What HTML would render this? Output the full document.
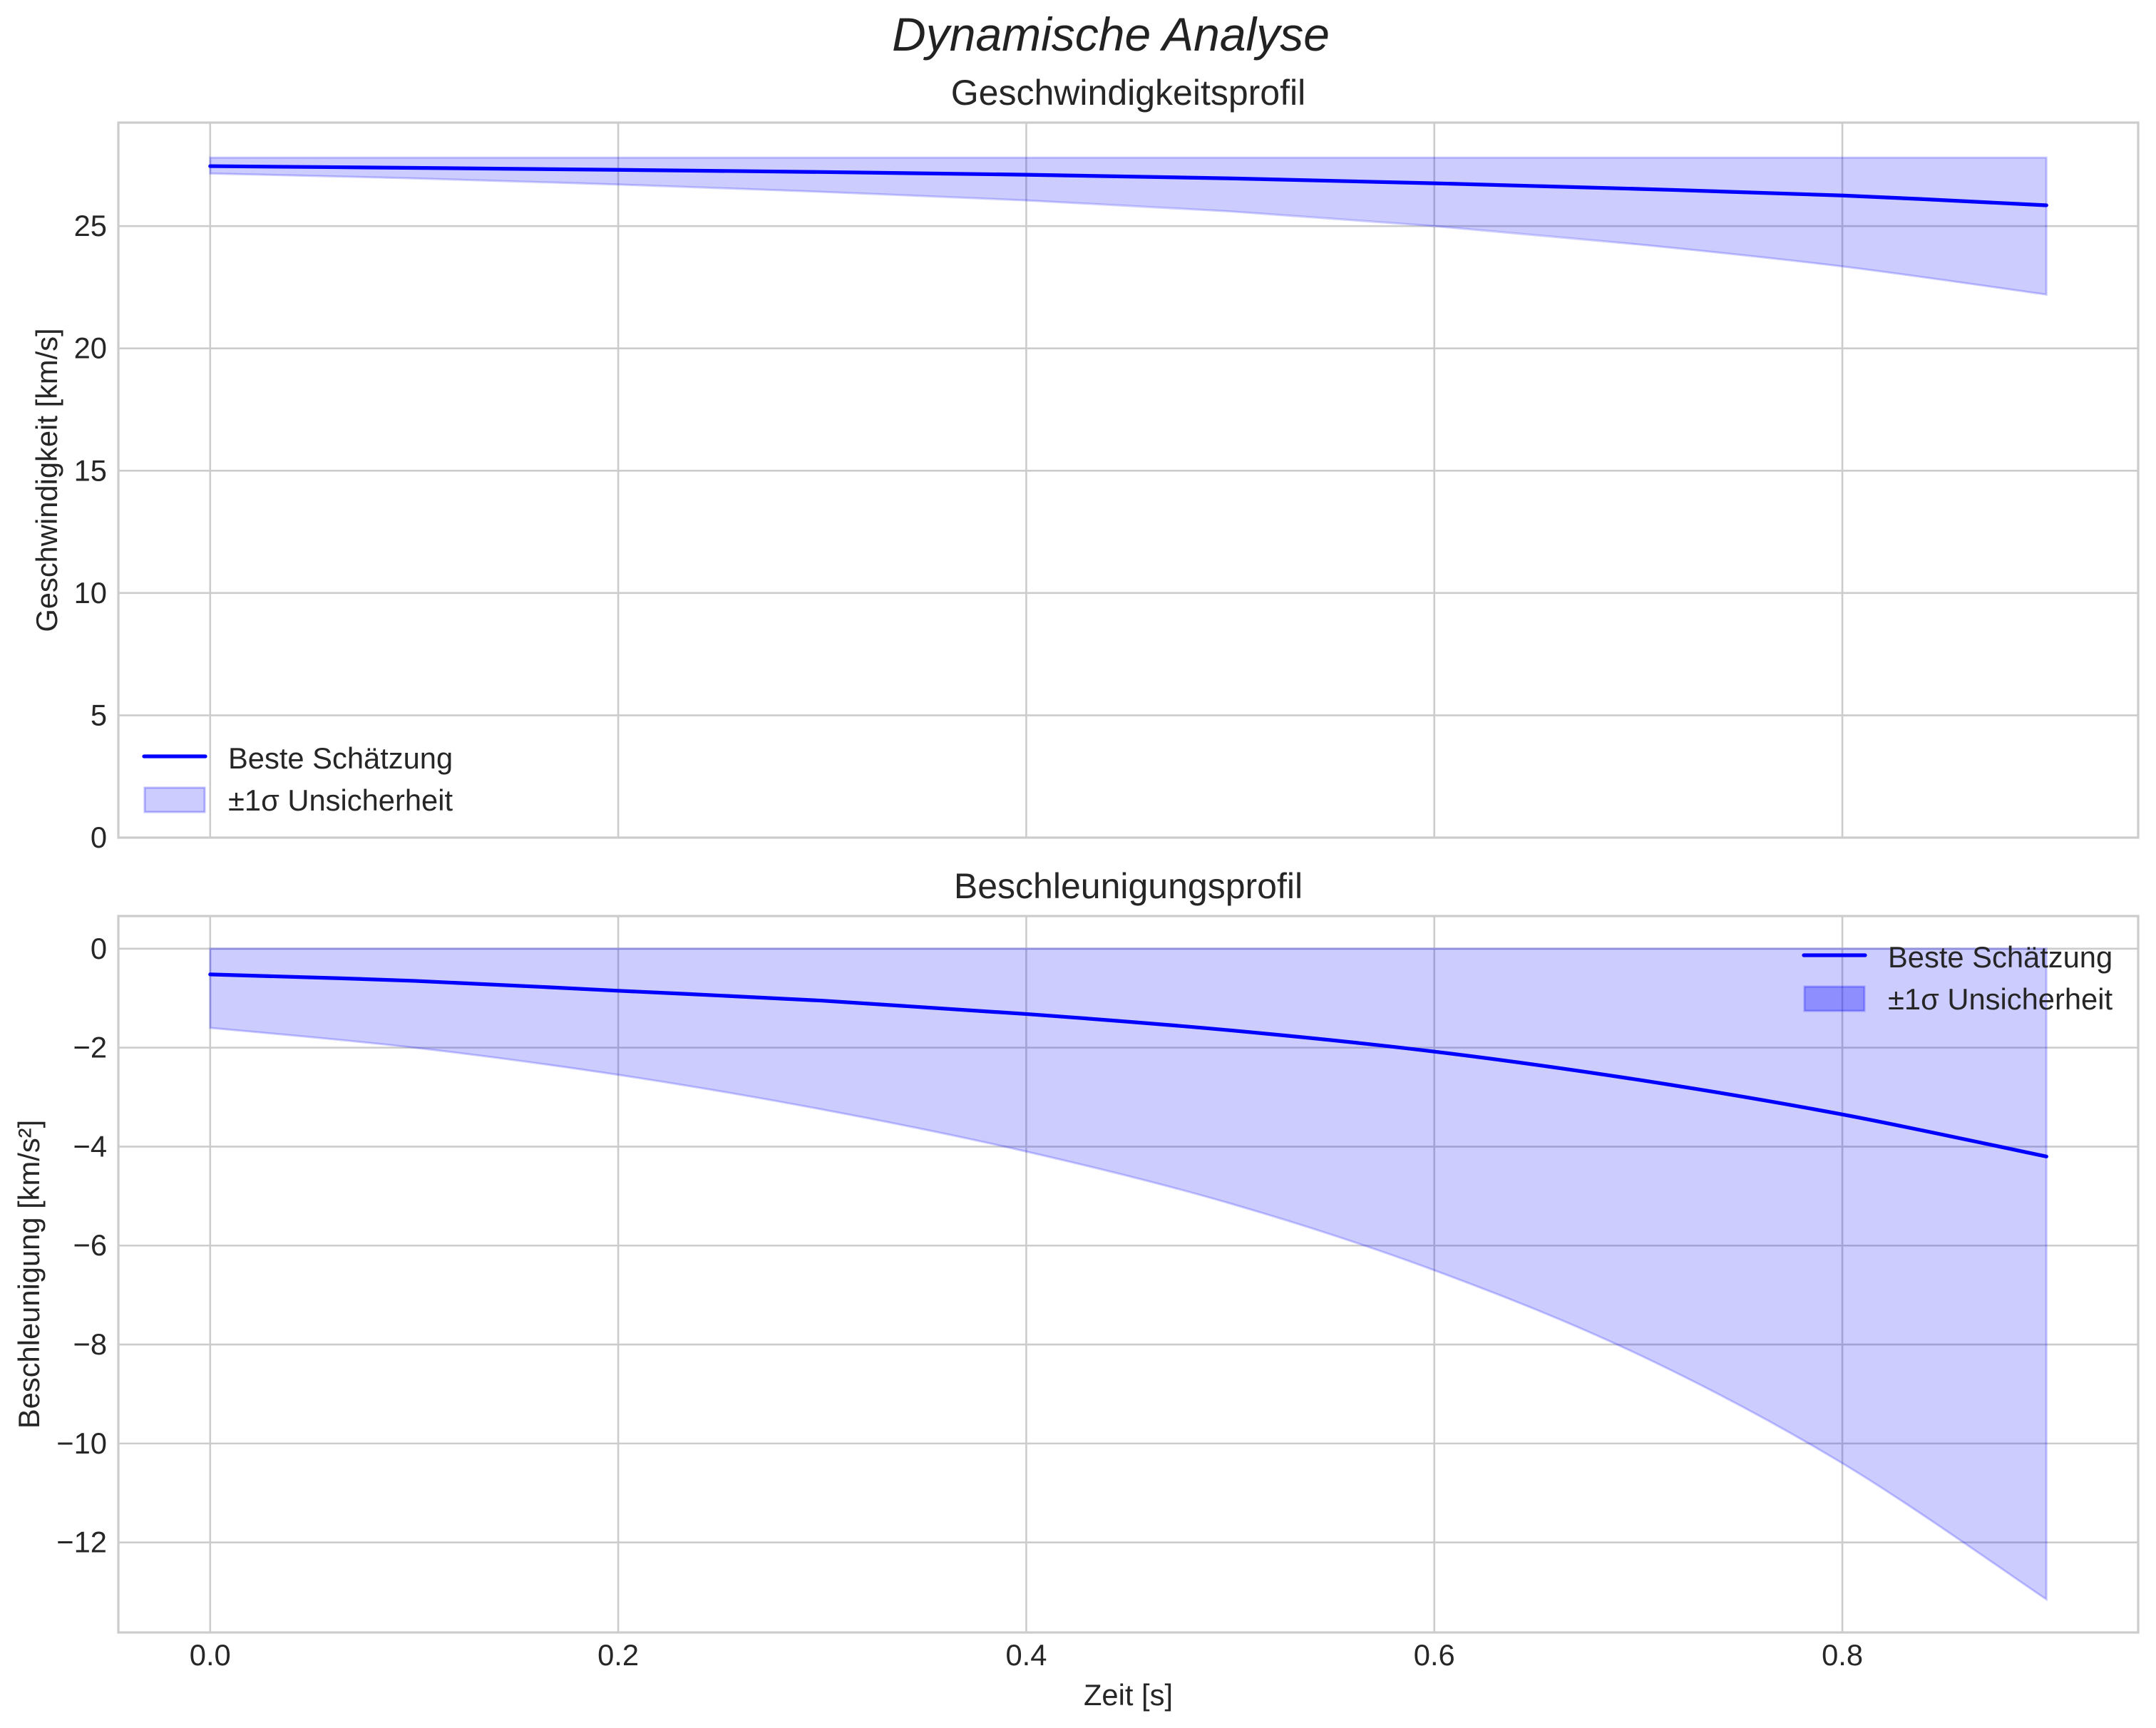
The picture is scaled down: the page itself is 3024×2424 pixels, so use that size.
<!DOCTYPE html>
<html><head><meta charset="utf-8"><style>
html,body{margin:0;padding:0;background:#fff;}
svg{display:block;font-family:"Liberation Sans",sans-serif;}
</style></head><body>
<svg id="chart" width="3024" height="2424" viewBox="0 0 3024 2424" xmlns="http://www.w3.org/2000/svg">
<text x="1558" y="71" font-size="66" font-style="italic" text-anchor="middle" fill="#222">Dynamische Analyse</text>
<g id="top"></g>
<g id="bot"></g>
</svg>
<script>
const timeValues = [0, 0.1, 0.2, 0.3, 0.4, 0.5, 0.6, 0.7, 0.8, 0.9];
const velocityBest = [27.45, 27.38, 27.3, 27.21, 27.1, 26.95, 26.75, 26.52, 26.25, 25.85];
const velocityLower = [27.15, 26.95, 26.7, 26.4, 26.05, 25.6, 25.0, 24.25, 23.35, 22.2];
const velocityUpper = [27.8, 27.8, 27.8, 27.8, 27.8, 27.8, 27.8, 27.8, 27.8, 27.8];
const accelBest = [-0.52, -0.65, -0.85, -1.05, -1.32, -1.65, -2.08, -2.65, -3.35, -4.2];
const accelLower = [-1.6, -2.0, -2.55, -3.25, -4.1, -5.15, -6.5, -8.2, -10.4, -13.15];
const accelUpper = [0, 0, 0, 0, 0, 0, 0, 0, 0, 0];
const xTicks = [0, 0.2, 0.4, 0.6, 0.8];
const xTickLabels = ["0.0", "0.2", "0.4", "0.6", "0.8"];
const velTicks = [0, 5, 10, 15, 20, 25];
const velTickLabels = ["0", "5", "10", "15", "20", "25"];
const accTicks = [0, -2, -4, -6, -8, -10, -12];
const accTickLabels = ["0", "\u22122", "\u22124", "\u22126", "\u22128", "\u221210", "\u221212"];

const NS = "http://www.w3.org/2000/svg";
function mk(parent, tag, attrs, text) {
  const e = document.createElementNS(NS, tag);
  for (const k in attrs) e.setAttribute(k, attrs[k]);
  if (text !== undefined) e.textContent = text;
  parent.appendChild(e);
  return e;
}
const L = 166, R = 2999, XMIN = -0.045, XMAX = 0.945;
const sx = v => L + (v - XMIN) / (XMAX - XMIN) * (R - L);

// Catmull-Rom smooth path through points
function smooth(pts, start) {
  let d = start ? "M" + pts[0][0] + "," + pts[0][1] : "L" + pts[0][0] + "," + pts[0][1];
  for (let i = 0; i < pts.length - 1; i++) {
    const p0 = pts[Math.max(0, i - 1)], p1 = pts[i], p2 = pts[i + 1], p3 = pts[Math.min(pts.length - 1, i + 2)];
    const c1 = [p1[0] + (p2[0] - p0[0]) / 6, p1[1] + (p2[1] - p0[1]) / 6];
    const c2 = [p2[0] - (p3[0] - p1[0]) / 6, p2[1] - (p3[1] - p1[1]) / 6];
    d += "C" + c1[0] + "," + c1[1] + " " + c2[0] + "," + c2[1] + " " + p2[0] + "," + p2[1];
  }
  return d;
}

function panel(g, top, bottom, ymin, ymax, ticks, tickLabels, best, lower, upper, title, ylabel, ylabelX, legend) {
  const sy = v => bottom - (v - ymin) / (ymax - ymin) * (bottom - top);
  xTicks.forEach((t, i) => {
    const l = mk(g, "line", {x1: sx(t), x2: sx(t), y1: top, y2: bottom, stroke: "#cccccc", "stroke-width": 2.6});
    
    
  });
  ticks.forEach((t, i) => {
    const l = mk(g, "line", {x1: L, x2: R, y1: sy(t), y2: sy(t), stroke: "#cccccc", "stroke-width": 2.6});
    
    
    const tx = mk(g, "text", {x: 150, y: sy(t) + 14, "font-size": 41.7, "text-anchor": "end", fill: "#262626"}, tickLabels[i]);
    
    
  });
  const up = timeValues.map((t, i) => [sx(t), sy(upper[i])]);
  const lo = timeValues.map((t, i) => [sx(t), sy(lower[i])]).reverse();
  const d = smooth(up, true) + smooth(lo, false) + "Z";
  const band = mk(g, "path", {d: d, fill: "rgba(0,0,255,0.2)", stroke: "rgba(0,0,255,0.2)", "stroke-width": 3});
  
  
  const bp = timeValues.map((t, i) => [sx(t), sy(best[i])]);
  const line = mk(g, "path", {d: smooth(bp, true), fill: "none", stroke: "#0000ff", "stroke-width": 5.2, "stroke-linejoin": "round", "stroke-linecap": "round"});
  
  
  const fr = mk(g, "rect", {x: L, y: top, width: R - L, height: bottom - top, fill: "none", stroke: "#cccccc", "stroke-width": 3.2});
  
  
  const ti = mk(g, "text", {x: (L + R) / 2, y: top - 25, "font-size": 50, "text-anchor": "middle", fill: "#262626"}, title);
  
  
  const cy = (top + bottom) / 2;
  const yl = mk(g, "text", {x: ylabelX, y: cy, "font-size": 41.7, "text-anchor": "middle", fill: "#262626", transform: "rotate(-90 " + ylabelX + " " + cy + ")"}, ylabel);
  
  
  const lg = mk(g, "g", {});
  
  
  const ll = mk(lg, "line", {x1: legend.x, x2: legend.x + 86, y1: legend.y, y2: legend.y, stroke: "#0000ff", "stroke-width": 5.2, "stroke-linecap": "round"});
  
  
  const lt1 = mk(lg, "text", {x: legend.x + 118, y: legend.y + 17, "font-size": 41.7, fill: "#262626"}, "Beste Schätzung");
  
  
  const pr = mk(lg, "rect", {x: legend.x + 1, y: legend.y + 44, width: 84, height: 34, fill: legend.patch, stroke: "rgba(0,0,255,0.25)", "stroke-width": 3});
  
  
  const lt2 = mk(lg, "text", {x: legend.x + 118, y: legend.y + 76, "font-size": 41.7, fill: "#262626"}, "±1σ Unsicherheit");
  
  
  return sy;
}

const gt = document.getElementById("top");
panel(gt, 172, 1175, 0, 29.23, velTicks, velTickLabels, velocityBest, velocityLower, velocityUpper,
  "Geschwindigkeitsprofil", "Geschwindigkeit [km/s]", 80, {x: 202, y: 1061, patch: "rgba(0,0,255,0.2)"});
const gb = document.getElementById("bot");
panel(gb, 1285, 2290, -13.82, 0.66, accTicks, accTickLabels, accelBest, accelLower, accelUpper,
  "Beschleunigungsprofil", "Beschleunigung [km/s²]", 55, {x: 2530, y: 1340, patch: "rgba(0,0,255,0.3)"});
xTicks.forEach((t, i) => {
  const tx = mk(gb, "text", {x: sx(t), y: 2336, "font-size": 41.7, "text-anchor": "middle", fill: "#262626"}, xTickLabels[i]);
  
  
});
const xl = mk(gb, "text", {x: (L + R) / 2, y: 2392, "font-size": 41.7, "text-anchor": "middle", fill: "#262626"}, "Zeit [s]");


</script>
</body></html>
